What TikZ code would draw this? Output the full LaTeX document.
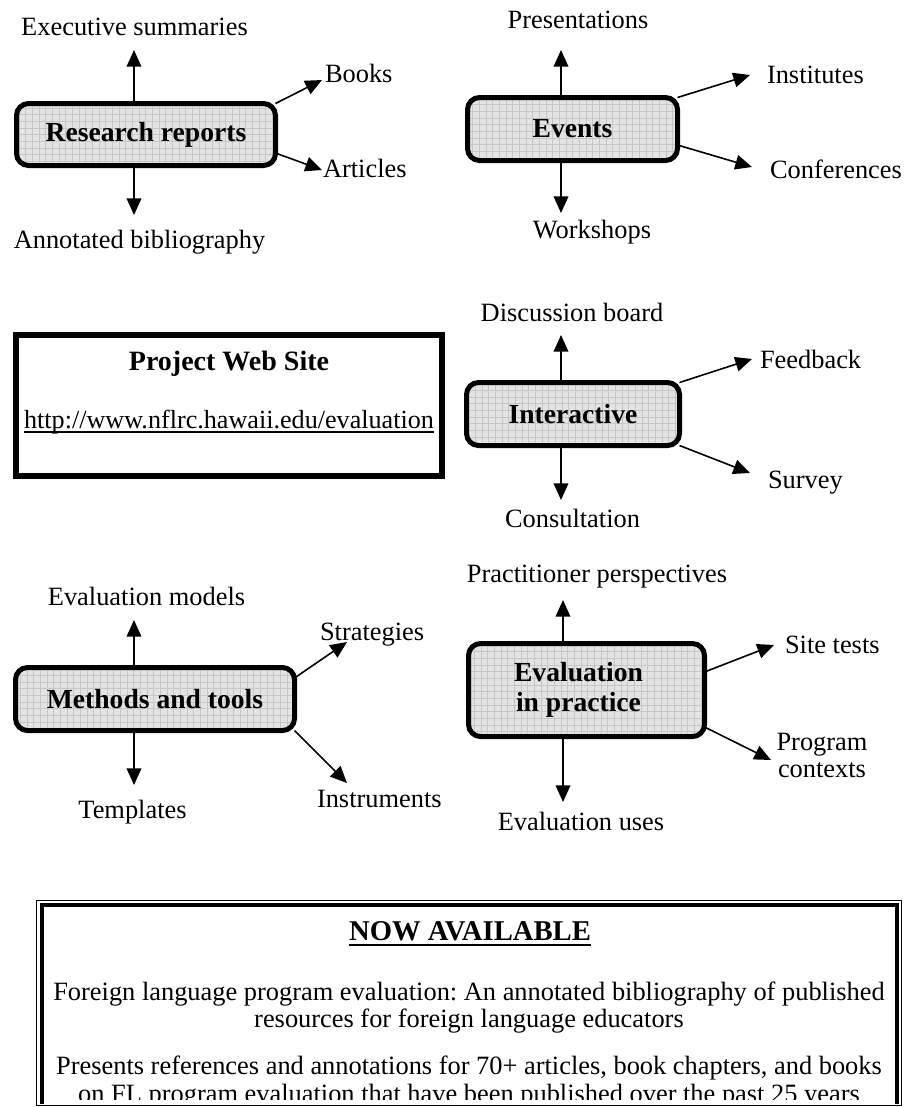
\documentclass[tikz,border=0pt]{standalone}
\usepackage{fontspec}
\setmainfont{Liberation Serif}
\usetikzlibrary{arrows.meta,calc}
\frenchspacing
\begin{document}
\begin{tikzpicture}[x=0.75pt,y=-0.75pt,
  every node/.style={inner sep=0pt,outer sep=0pt,font=\fontsize{19.8}{22}\selectfont},
  lbl/.style={anchor=base},
  lbll/.style={anchor=base west},
  box/.style={draw,line width=3.75pt,rounded corners=9pt,fill=black!11,align=center,
    font=\fontsize{20.7}{22.5}\selectfont\bfseries,
    path picture={\draw[black!22,line width=0.35pt,step=5pt]
      (path picture bounding box.south west) grid (path picture bounding box.north east);}},
  arr/.style={line width=1.2pt,-{Triangle[length=12.5pt,width=11pt]}},
  boldlbl/.style={anchor=base,font=\fontsize{21}{22}\selectfont\bfseries}
]
\useasboundingbox (0,0) rectangle (904,1107);

% ---------- Research reports ----------
\node[box,minimum width=194.25pt,minimum height=46.5pt] (rr) at (146,134.5) {Research reports};
\node[lbl]  (rrU) at (134.5,35) {Executive summaries};
\node[lbll] (rrB) at (325,82) {Books};
\node[lbll] (rrA) at (323,177) {Articles};
\node[lbl]  (rrD) at (139.5,248) {Annotated bibliography};
\coordinate (rrUt) at (134,50);
\coordinate (rrDt) at (134,215);
\coordinate (rrBt) at (322,80);
\coordinate (rrAt) at (322,170);
\draw[arr] (rrUt |- rr.north) -- (rrUt);
\draw[arr] (rrDt |- rr.south) -- (rrDt);
\draw[arr] (rr.north east) -- (rrBt);
\draw[arr] ($(rr.east)+(0,18.5)$) -- (rrAt);

% ---------- Events ----------
\node[box,minimum width=157.5pt,minimum height=47.25pt] (ev) at (572.5,129) {Events};
\node[lbl]  (evU) at (578,28) {Presentations};
\begin{scope}
  \clip (500,200) rectangle (700,243.5);
  \node[lbl]  (evD) at (592,238) {Workshops};
\end{scope}
\node[lbll] (evI) at (767,83) {Institutes};
\node[lbll] (evC) at (770,178) {Conferences};
\coordinate (evUt) at (561,50);
\coordinate (evDt) at (561,213);
\coordinate (evIt) at (750,75);
\coordinate (evCt) at (752,167);
\draw[arr] (evUt |- ev.north) -- (evUt);
\draw[arr] (evDt |- ev.south) -- (evDt);
\draw[arr] (ev.north east) -- (evIt);
\draw[arr] ($(ev.east)+(0,16)$) -- (evCt);

% ---------- Project Web Site ----------
\node[draw,line width=4.5pt,minimum width=319.5pt,minimum height=105.75pt] (web) at (229,405.5) {};
\node[boldlbl] (webT) at (229,370) {Project Web Site};
\node[lbl,font=\fontsize{19.6}{22}\selectfont] (url) at (229,428) {http://www.nflrc.hawaii.edu/evaluation};
\draw[line width=1.1pt] ([yshift=-3pt]url.base west) -- ([yshift=-3pt]url.base east);

% ---------- Interactive ----------
\node[box,minimum width=159.75pt,minimum height=47.25pt] (in) at (573,414) {Interactive};
\node[lbl]  (inU) at (572,321) {Discussion board};
\node[lbl]  (inD) at (572.5,527) {Consultation};
\node[lbll] (inF) at (760,368) {Feedback};
\node[lbll] (inS) at (768,488) {Survey};
\coordinate (inUt) at (561,335);
\coordinate (inDt) at (561,500);
\coordinate (inFt) at (752,359);
\coordinate (inSt) at (750,473);
\draw[arr] (inUt |- in.north) -- (inUt);
\draw[arr] (inDt |- in.south) -- (inDt);
\draw[arr] (in.north east) -- (inFt);
\draw[arr] (in.south east) -- (inSt);

% ---------- Methods and tools ----------
\node[box,minimum width=209.25pt,minimum height=47.25pt] (mt) at (155,699) {Methods and tools};
\node[lbl]  (mtU) at (146.5,605) {Evaluation models};
\node[lbl]  (mtD) at (132.5,818) {Templates};
\node[lbll] (mtS) at (320,640) {Strategies};
\node[lbll] (mtI) at (317,807) {Instruments};
\coordinate (mtUt) at (134,620);
\coordinate (mtDt) at (134,785);
\coordinate (mtSt) at (347,642);
\coordinate (mtIt) at (347,783);
\draw[arr] (mtUt |- mt.north) -- (mtUt);
\draw[arr] (mtDt |- mt.south) -- (mtDt);
\draw[arr] ($(mt.east)+(0,-21)$) -- (mtSt);
\draw[arr] (mt.south east) -- (mtIt);

% ---------- Evaluation in practice ----------
\node[box,minimum width=177pt,minimum height=69.75pt] (ep) at (586.5,690)
  {Evaluation\hspace*{12pt}\\in practice\hspace*{12pt}};
\node[lbl]  (epU) at (597,582) {Practitioner perspectives};
\node[lbl]  (epD) at (581,830) {Evaluation uses};
\node[lbll] (epS) at (785,653) {Site tests};
\node[align=center,font=\fontsize{19.8}{20.25}\selectfont] (epP) at (822,755) {Program\\contexts};
\coordinate (epUt) at (563,600);
\coordinate (epDt) at (563,802);
\coordinate (epSt) at (774,645);
\coordinate (epPt) at (771,760);
\draw[arr] (epUt |- ep.north) -- (epUt);
\draw[arr] (epDt |- ep.south) -- (epDt);
\draw[arr] ($(ep.east)+(0,-18)$) -- (epSt);
\draw[arr] ($(ep.east)+(0,37)$) -- (epPt);

% ---------- NOW AVAILABLE box ----------
\draw[line width=0.75pt] (36,900.5) rectangle (901.5,1105);
\draw[line width=3pt] (41.5,1104) -- (41.5,905) -- (897,905) -- (897,1104);
\begin{scope}
  \clip (44,908) rectangle (894.5,1099);
  \node[boldlbl,font=\fontsize{21.5}{22}\selectfont\bfseries] (now) at (470,940) {NOW AVAILABLE};
  \draw[line width=1.5pt] ([yshift=-3.5pt]now.base west) -- ([yshift=-3.5pt]now.base east);
  \node[align=center,font=\fontsize{19.8}{20.25}\selectfont] (para1) at (469,1007.4)
    {Foreign language program evaluation: An annotated bibliography of published\\resources for foreign language educators};
  \node[align=center,font=\fontsize{19.8}{21}\selectfont] (para2) at (469,1082)
    {Presents references and annotations for 70+ articles, book chapters, and books\\on FL program evaluation that have been published over the past 25 years};
\end{scope}
\end{tikzpicture}
\end{document}
